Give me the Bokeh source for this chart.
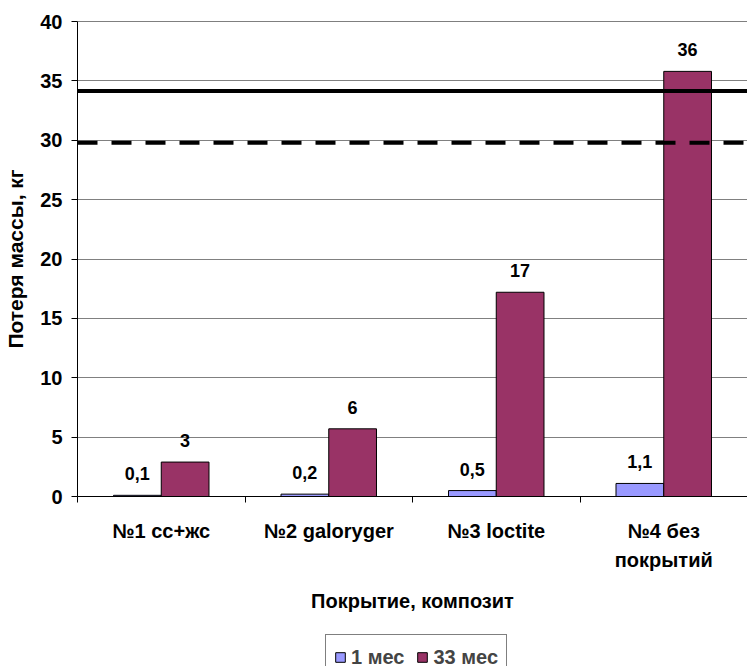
from bokeh.plotting import figure
from bokeh.models import (ColumnDataSource, Range1d, FixedTicker, LabelSet, Span,
                          Legend, LegendItem)
from bokeh.layouts import column
from bokeh.transform import dodge
from bokeh.core.properties import value
from bokeh.embed import file_html
from bokeh.resources import INLINE

# ---- data ----
categories = ["№1 сс+жс", "№2 galoryger", "№3 loctite", "№4 без\nпокрытий"]
month1 = [0.1, 0.2, 0.5, 1.1]
month33 = [2.9, 5.7, 17.2, 35.8]
month1_labels = ["0,1", "0,2", "0,5", "1,1"]
month33_labels = ["3", "6", "17", "36"]
series_names = ["1 мес", "33 мес"]
y_ticks = [0, 5, 10, 15, 20, 25, 30, 35, 40]
solid_level = 34.15
dashed_level = 29.8
y_title = "Потеря массы, кг"
x_title = "Покрытие, композит"

FONT = "Liberation Sans"
BLUE = "#9999FF"
MAROON = "#993366"

centers = [i + 0.5 for i in range(len(categories))]
bounds = [float(i) for i in range(len(categories) + 1)]

src = ColumnDataSource(dict(x=centers, m1=month1, m33=month33,
                            l1=month1_labels, l33=month33_labels))

p = figure(width=747, height=630, output_backend="svg", toolbar_location=None,
           x_range=Range1d(0, len(categories)), y_range=Range1d(0, 40),
           min_border_left=77, min_border_right=0, min_border_top=21,
           min_border_bottom=134)
p.outline_line_color = None
p.background_fill_color = "white"
p.border_fill_color = "white"

W = 0.285
off = W / 2
r1 = p.vbar(x=dodge("x", -off, range=p.x_range), top="m1", width=W, source=src,
            fill_color=BLUE, line_color="black", line_width=1)
r2 = p.vbar(x=dodge("x", off, range=p.x_range), top="m33", width=W, source=src,
            fill_color=MAROON, line_color="black", line_width=1)

for col, lab, dx in (("m1", "l1", -off), ("m33", "l33", off)):
    ls = LabelSet(x=dodge("x", dx, range=p.x_range), y=col, text=lab, source=src,
                  text_align="center", text_baseline="alphabetic", y_offset=15,
                  text_font=value(FONT), text_font_style=value("bold"),
                  text_font_size=value("18px"), text_color="black")
    p.add_layout(ls)

p.add_layout(Span(location=solid_level, dimension="width", line_color="black",
                  line_width=4))
p.add_layout(Span(location=dashed_level, dimension="width", line_color="black",
                  line_width=4, line_dash="20 14"))
p.add_layout(Span(location=40, dimension="width", line_color="black",
                  line_width=1))

# y axis
ya = p.yaxis[0]
ya.ticker = FixedTicker(ticks=y_ticks)
ya.axis_line_color = "black"
ya.major_tick_out = 6
ya.major_tick_in = 0
ya.minor_tick_line_color = None
ya.major_label_standoff = 9
ya.major_label_text_font = FONT
ya.major_label_text_font_style = "bold"
ya.major_label_text_font_size = "20px"
ya.major_label_text_color = "black"
ya.axis_label = y_title
ya.axis_label_text_font = FONT
ya.axis_label_text_font_style = "bold"
ya.axis_label_text_font_size = "21px"
ya.axis_label_text_color = "black"
ya.axis_label_standoff = 10

# x axis
xa = p.xaxis[0]
xa.ticker = FixedTicker(ticks=centers, minor_ticks=bounds)
xa.major_label_overrides = {c: lab for c, lab in zip(centers, categories)}
xa.axis_line_color = "black"
xa.major_tick_out = 0
xa.major_tick_in = 0
xa.major_tick_line_color = None
xa.minor_tick_out = 6
xa.minor_tick_in = 0
xa.minor_tick_line_color = "black"
xa.major_label_standoff = 17
xa.major_label_text_font = FONT
xa.major_label_text_font_style = "bold"
xa.major_label_text_font_size = "20px"
xa.major_label_text_color = "black"
xa.major_label_text_line_height = 1.32
xa.axis_label = x_title
xa.axis_label_text_font = FONT
xa.axis_label_text_font_style = "bold"
xa.axis_label_text_font_size = "20px"
xa.axis_label_text_color = "black"
xa.axis_label_standoff = 16

p.xgrid.grid_line_color = None
p.ygrid.grid_line_color = "#808080"
p.ygrid.grid_line_width = 1
p.ygrid.ticker = FixedTicker(ticks=y_ticks)

# legend strip below the chart (hidden swatch renderers only feed the legend)
lf = figure(width=747, height=36, output_backend="svg", toolbar_location=None,
            x_range=Range1d(0, 1), y_range=Range1d(0, 1),
            x_axis_type=None, y_axis_type=None, min_border=0)
lf.outline_line_color = None
lf.xgrid.visible = False
lf.ygrid.visible = False
lr1 = lf.vbar(x=[0.5], top=[0.5], width=0.1, fill_color=BLUE,
              line_color="black", line_width=1, visible=False)
lr2 = lf.vbar(x=[0.5], top=[0.5], width=0.1, fill_color=MAROON,
              line_color="black", line_width=1, visible=False)
legend = Legend(items=[LegendItem(label=series_names[0], renderers=[lr1]),
                       LegendItem(label=series_names[1], renderers=[lr2])],
                location=(248, -14), orientation="horizontal",
                border_line_color="black", border_line_width=1,
                padding=8, spacing=12, glyph_width=12, glyph_height=12,
                label_standoff=5, label_text_font=FONT,
                label_text_font_style="bold", label_text_font_size="20px",
                label_height=28, margin=0, background_fill_alpha=1,
                click_policy="none")
lf.add_layout(legend, "center")

layout = column(p, lf, spacing=0)
open("out.html", "w").write(file_html(layout, INLINE))
